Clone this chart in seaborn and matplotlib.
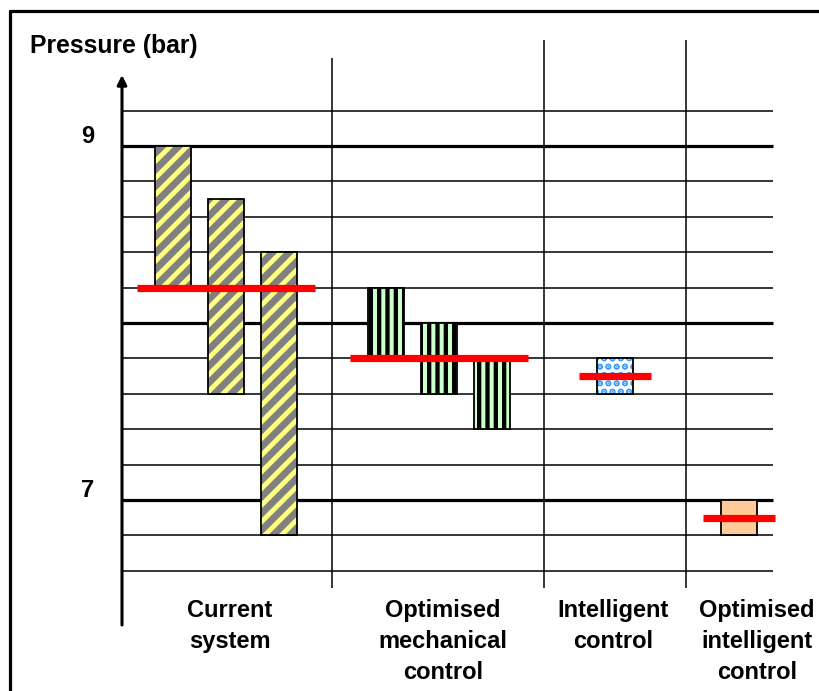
import numpy as np
import pandas as pd
import matplotlib
matplotlib.use("Agg")
import matplotlib.pyplot as plt
import matplotlib.transforms as mtransforms
import seaborn as sns

# ---------------- data ----------------
groups = ["Current\nsystem", "Optimised\nmechanical\ncontrol",
          "Intelligent\ncontrol", "Optimised\nintelligent\ncontrol"]
bar_group = [0, 0, 0, 1, 1, 1, 2, 3]
bar_top = [9.0, 8.7, 8.4, 8.2, 8.0, 7.8, 7.8, 7.0]
bar_bottom = [8.2, 7.6, 6.8, 7.8, 7.6, 7.4, 7.6, 6.8]
target = [8.2, 7.8, 7.7, 6.9]
ytick_values = [7, 9]
ytick_labels = ["7", "9"]
y_label = "Pressure (bar)"

# ---------------- style ----------------
sns.set_theme(style="white")
plt.rcParams['font.family'] = ['Liberation Sans', 'DejaVu Sans']
plt.rcParams['text.color'] = 'black'
plt.rcParams['hatch.linewidth'] = 3.0

W, H = 819, 691
fig = plt.figure(figsize=(W / 100, H / 100), dpi=100)
ax = fig.add_axes([0, 0, 1, 1])

ppb = 177.0      # pixels per bar
y9 = 146.0       # pixel row of 9 bar
def pv(py):      # pixel row -> value
    return 9 - (py - y9) / ppb

group_x = [226, 438.5, 615, 738.5]
label_x = [230, 443, 613, 757]
step = 53
bw = 36
axis_left, axis_right = 122, 773
seps = [(332, 58), (544, 40), (686, 40)]

group_styles = [
    dict(fc="#808080", hc="#ffff80", hatch="//", hlw=3.5),
    dict(fc="#ccffcc", hc="#000000", hatch="||", hlw=3.1),
    dict(fc="#ffffff", hc="#3399ff", hatch="..", hlw=3.2),
    dict(fc="#ffcc99", hc="#ffcc99", hatch=None, hlw=1.0),
]

# grid lines
for v in np.round(np.arange(6.6, 9.21, 0.2), 1):
    thick = v in (7.0, 8.0, 9.0)
    ax.hlines(v, axis_left, axis_right, color="black",
              lw=2.3 if thick else 1.1, zorder=1)

# separators
for sx, top in seps:
    ax.vlines(sx, pv(588), pv(top), color="black", lw=1.1, zorder=1)

# y axis with arrow
ax.annotate("", xy=(axis_left, pv(75)), xytext=(axis_left, pv(625)),
            arrowprops=dict(arrowstyle="-|>", lw=2.2, color="black",
                            mutation_scale=14, shrinkA=0, shrinkB=0),
            zorder=2)

# bars
xs = []
for i, g in enumerate(bar_group):
    members = [j for j, gg in enumerate(bar_group) if gg == g]
    k = members.index(i)
    n = len(members)
    xs.append(group_x[g] + (k - (n - 1) / 2) * step)

for i, g in enumerate(bar_group):
    st = group_styles[g]
    h = bar_top[i] - bar_bottom[i]
    plt.rcParams['hatch.linewidth'] = st["hlw"]
    cont = ax.bar(xs[i], h, bottom=bar_bottom[i], width=bw, color=st["fc"],
                  edgecolor=st["hc"], hatch=st["hatch"], lw=0, zorder=3)
    for p in cont.patches:
        if hasattr(p, "set_hatch_linewidth"):
            p.set_hatch_linewidth(st["hlw"])
    ax.bar(xs[i], h, bottom=bar_bottom[i], width=bw, facecolor="none",
           edgecolor="black", lw=1.3, zorder=4)

# target (red) lines
rows = []
for g, t in enumerate(target):
    members = [xs[j] for j, gg in enumerate(bar_group) if gg == g]
    rows.append(dict(x=min(members) - bw, y=t, grp=g))
    rows.append(dict(x=max(members) + bw, y=t, grp=g))
df = pd.DataFrame(rows)
sns.lineplot(data=df, x="x", y="y", units="grp", estimator=None, sort=False,
             color="#ff0000", lw=5.2, ax=ax, legend=False, zorder=5,
             solid_capstyle="butt")

ax.set_xlim(0, W)
ax.set_ylim(pv(H), pv(0))
ax.axis("off")

# tick labels
off = mtransforms.ScaledTranslation(0, 3 / 100, fig.dpi_scale_trans)
for v, lab in zip(ytick_values, ytick_labels):
    ax.text(88, v, lab, ha="center", va="baseline", fontsize=17,
            fontweight="bold", color="black", transform=ax.transData + off)

# y label
fig.text(30 / W, 1 - 46 / H, y_label, ha="left", va="center",
         fontsize=17.8, fontweight="bold", color="black")

# category labels
for lx, lab in zip(label_x, groups):
    fig.text(lx / W, 1 - 599 / H, lab, ha="center", va="top",
             fontsize=17, fontweight="bold", linespacing=1.45, color="black")

# outer frame (top and left)
fig.add_artist(plt.Line2D([10 / W, 1], [1 - 11 / H, 1 - 11 / H],
                          color="black", lw=2.3, transform=fig.transFigure))
fig.add_artist(plt.Line2D([10 / W, 10 / W], [0, 1 - 11 / H],
                          color="black", lw=2.3, transform=fig.transFigure))

fig.savefig("out.png", dpi=100)
